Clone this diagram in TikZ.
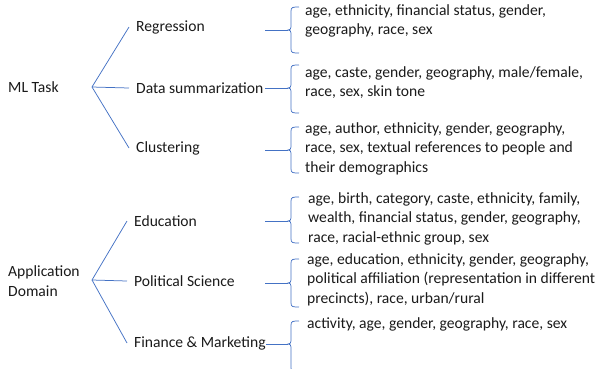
\documentclass[tikz,border=0pt]{standalone}
\usepackage{fontspec}
\setmainfont{Carlito}
\definecolor{lineblue}{HTML}{4472C4}
\definecolor{txt}{HTML}{1A1A1A}
\newcommand{\mybrace}[4]{%
  \draw[blueline] (299,#1) .. controls (293,#1) and (291,#1) .. (291,#1+4) -- (291,#2-3)
    .. controls (291,#2-1) and (290,#2) .. (#4) .. controls (290,#2) and (291,#2+1) .. (291,#2+3)
    -- (291,#3-4) .. controls (291,#3) and (293,#3) .. (299,#3);}
\begin{document}
\begin{tikzpicture}[x=1pt,y=-1pt,
  blueline/.style={draw=lineblue,line width=0.75pt},
  every node/.style={font=\fontsize{15.6}{19.5}\selectfont,text=txt,inner sep=0pt},
  cat/.style={anchor=west,align=left},
  lbl/.style={anchor=west,inner xsep=7pt},
  lst/.style={anchor=north west,align=left}]
\useasboundingbox (0,0) rectangle (603,368);
% ---- ML Task
\node[cat] (ml) at (8,87) {ML Task};
\coordinate (f1) at (92,87);
\node[lbl] (reg) at (129,27) {Regression};
\node[lbl] (sum) at (129,88) {Data summarization};
\node[lbl] (clu) at (129,148) {Clustering};
\draw[blueline] (reg.west) -- (f1) -- (clu.west);
\draw[blueline] (f1) -- (sum.west);
% ---- Application Domain
\node[cat] (app) at (8,281) {Application\\Domain};
\coordinate (f2) at (92,280);
\node[lbl] (edu) at (127,221) {Education};
\node[lbl] (pol) at (127,281) {Political Science};
\node[lbl] (fin) at (127,343) {Finance \& Marketing};
\draw[blueline] (edu.west) -- (f2) -- (fin.west);
\draw[blueline] (f2) -- (pol.west);
% ---- connector starts and brace tips
\coordinate (s1) at (265,30);  \coordinate (t1) at (288,30);
\coordinate (s2) at (265,88);  \coordinate (t2) at (288,88);
\coordinate (s3) at (265,150); \coordinate (t3) at (288,150);
\coordinate (s4) at (265,221); \coordinate (t4) at (288,221);
\coordinate (s5) at (265,283); \coordinate (t5) at (288,283);
\coordinate (s6) at (266,344); \coordinate (t6) at (288,344);
\foreach \i in {1,...,6} {\draw[blueline] (s\i) -- (t\i);}
\mybrace{7}{30}{53}{t1}
\mybrace{65}{88}{113}{t2}
\mybrace{127}{150}{173}{t3}
\mybrace{197}{221}{243}{t4}
\mybrace{259}{283}{307}{t5}
\mybrace{321}{344}{372}{t6}
% ---- attribute lists
\node[lst] (l1) at (305,4) {age, ethnicity, financial status, gender,\\geography, race, sex};
\node[lst] (l2) at (305,66) {age, caste, gender, geography, male/female,\\race, sex, skin tone};
\node[lst] (l3) at (305,122) {age, author, ethnicity, gender, geography,\\race, sex, textual references to people and\\their demographics};
\node[lst] (l4) at (308,192) {age, birth, category, caste, ethnicity, family,\\wealth, financial status, gender, geography,\\race, racial-ethnic group, sex};
\node[lst] (l5) at (307,253) {age, education, ethnicity, gender, geography,\\political affiliation (representation in different\\precincts), race, urban/rural};
\node[lst] (l6) at (307,317) {activity, age, gender, geography, race, sex};
\end{tikzpicture}
\end{document}
